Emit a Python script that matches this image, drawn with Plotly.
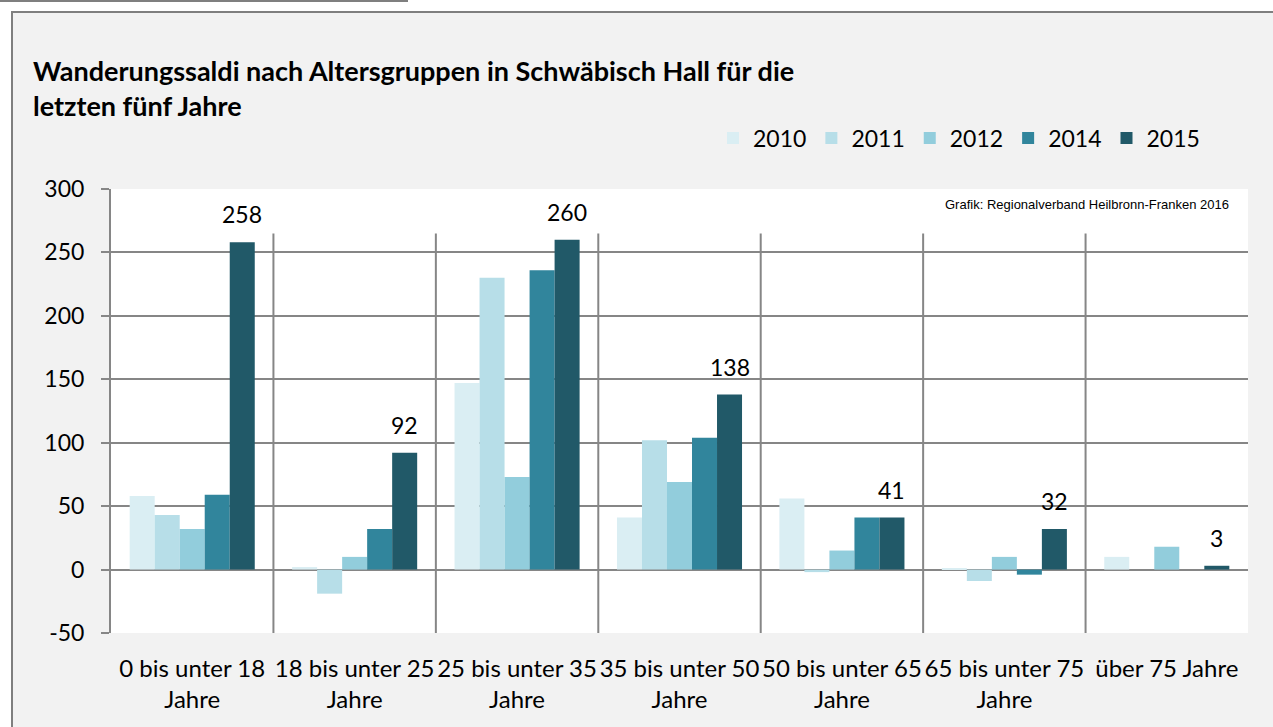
import plotly.graph_objects as go

# ── Data ──────────────────────────────────────────────────────────────────────
CATEGORIES = [
    "0 bis unter 18<br>Jahre",
    "18 bis unter 25<br>Jahre",
    "25 bis unter 35<br>Jahre",
    "35 bis unter 50<br>Jahre",
    "50 bis unter 65<br>Jahre",
    "65 bis unter 75<br>Jahre",
    "über 75 Jahre",
]
YEARS = ["2010", "2011", "2012", "2014", "2015"]

V2010 = [58, 2, 147, 41, 56, 1, 10]
V2011 = [43, -19, 230, 102, -2, -9, 0]
V2012 = [32, 10, 73, 69, 15, 10, 18]
V2014 = [59, 32, 236, 104, 41, -4, 0]
V2015 = [258, 92, 260, 138, 41, 32, 3]

Y_TICKS = [-50, 0, 50, 100, 150, 200, 250, 300]
Y_TICKTEXT = ["-50", "0", "50", "100", "150", "200", "250", "300"]

# ── Style ─────────────────────────────────────────────────────────────────────
COLORS = ["#DAEEF3", "#B7DEE8", "#92CDDC", "#31859C", "#215968"]
C_GRID = "#868686"
C_BOX = "#F2F2F2"
C_BORDER = "#7F7F7F"
FONT = "Lato"

W, H = 1273, 727
M_L, M_R, M_T, M_B = 111, 25, 189, 94
PW = W - M_L - M_R
PH = H - M_T - M_B


def px_x(px):
    return (px - M_L) / PW


def px_y(py):
    return (H - M_B - py) / PH


fig = go.Figure()
for name, vals, col in zip(YEARS, [V2010, V2011, V2012, V2014, V2015], COLORS):
    fig.add_trace(go.Bar(
        x=CATEGORIES, y=vals, name=name,
        marker=dict(color=col, line=dict(width=0)),
    ))

# data labels on 2015 series (last bar of each group -> shifted right)
annotations = []
for cat, v in zip(CATEGORIES, V2015):
    annotations.append(dict(
        x=cat, y=v, xref="x", yref="y", text=str(v), showarrow=False,
        xanchor="center", yanchor="bottom", yshift=12, xshift=50,
        font=dict(family=FONT, size=23, color="#000000"),
    ))

# title
annotations.append(dict(
    xref="paper", yref="paper", x=px_x(31), y=px_y(52),
    xanchor="left", yanchor="top", align="left", showarrow=False,
    text="<b>Wanderungssaldi nach Altersgruppen in Schwäbisch Hall für die<br>letzten fünf Jahre</b>",
    font=dict(family=FONT, size=27, color="#000000"),
))
# source
annotations.append(dict(
    xref="paper", yref="paper", x=px_x(1231), y=px_y(205),
    xanchor="right", yanchor="middle", showarrow=False,
    text="Grafik: Regionalverband Heilbronn-Franken 2016",
    font=dict(family="Liberation Sans", size=13, color="#000000"),
))

shapes = [
    # outer grey box
    dict(type="rect", xref="paper", yref="paper", layer="below",
         x0=px_x(12), x1=px_x(1300), y0=px_y(760), y1=px_y(12),
         fillcolor=C_BOX, line=dict(color=C_BORDER, width=2)),
    # white plot area
    dict(type="rect", xref="paper", yref="paper", layer="below",
         x0=0, x1=1, y0=0, y1=1, fillcolor="#FFFFFF", line=dict(width=0)),
    # top-left rule
    dict(type="line", xref="paper", yref="paper",
         x0=px_x(0), x1=px_x(408), y0=px_y(1), y1=px_y(1),
         line=dict(color=C_BORDER, width=2)),
]
# category separators
for i in range(len(CATEGORIES) - 1):
    shapes.append(dict(
        type="line", xref="x", yref="y", layer="below",
        x0=i + 0.5, x1=i + 0.5, y0=-50, y1=265,
        line=dict(color=C_GRID, width=2),
    ))

fig.update_layout(
    width=W, height=H,
    margin=dict(l=M_L, r=M_R, t=M_T, b=M_B, autoexpand=False),
    paper_bgcolor="#FFFFFF",
    plot_bgcolor="rgba(0,0,0,0)",
    barmode="group", bargap=0.23, bargroupgap=0,
    font=dict(family=FONT, size=22, color="#000000"),
    showlegend=True,
    legend=dict(
        orientation="h", x=px_x(1205), y=px_y(138),
        xanchor="right", yanchor="middle",
        bgcolor="rgba(0,0,0,0)",
        font=dict(family=FONT, size=23, color="#000000"),
        itemwidth=30, traceorder="normal",
    ),
    annotations=annotations,
    shapes=shapes,
)

fig.update_xaxes(
    type="category", tickangle=0, showgrid=False, zeroline=False,
    showline=False, ticks="", ticklabelstandoff=19,
    tickfont=dict(family=FONT, size=24, color="#000000"),
)
fig.update_yaxes(
    range=[-50, 300], tickmode="array", tickvals=Y_TICKS, ticktext=Y_TICKTEXT,
    showgrid=True, gridcolor=C_GRID, gridwidth=2,
    zeroline=True, zerolinecolor=C_GRID, zerolinewidth=2,
    showline=True, linecolor=C_GRID, linewidth=2,
    ticks="outside", ticklen=8, tickcolor=C_GRID, tickwidth=2,
    ticklabelstandoff=12,
    tickfont=dict(family=FONT, size=23, color="#000000"),
)

fig.write_html(
    "out.html",
    config={"displayModeBar": False},
    post_script="document.body.style.margin='0';",
)
